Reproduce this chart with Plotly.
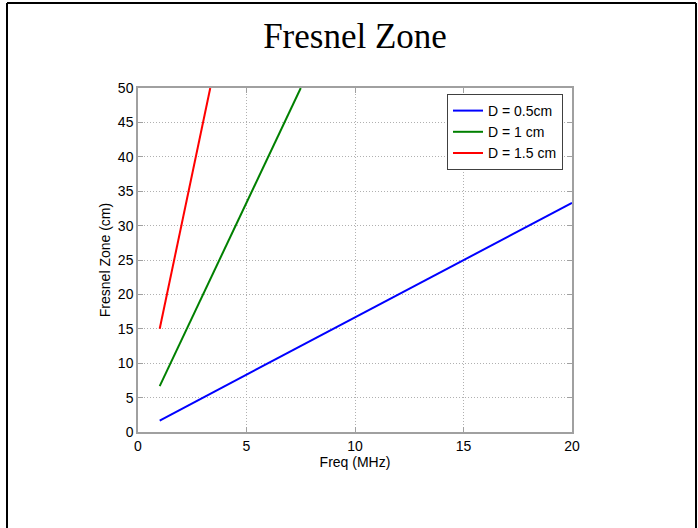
import plotly.graph_objects as go

# Data
freq_blue = [1, 20]
zone_blue = [1.67, 33.3]
freq_green = [1, 7.5]
zone_green = [6.67, 50]
freq_red = [1, 3.33]
zone_red = [15, 50]

x_ticks = [0, 5, 10, 15, 20]
y_ticks = [0, 5, 10, 15, 20, 25, 30, 35, 40, 45, 50]

fig = go.Figure()
fig.add_trace(go.Scatter(x=freq_blue, y=zone_blue, mode="lines", name="D = 0.5cm",
                         line=dict(color="#0000ff", width=2)))
fig.add_trace(go.Scatter(x=freq_green, y=zone_green, mode="lines", name="D = 1 cm",
                         line=dict(color="#008000", width=2)))
fig.add_trace(go.Scatter(x=freq_red, y=zone_red, mode="lines", name="D = 1.5 cm",
                         line=dict(color="#ff0000", width=2)))

axis_common = dict(
    showline=True, linecolor="#a0a0a0", linewidth=1.5, mirror="all",
    ticks="inside", ticklen=5, tickcolor="#a0a0a0", tickwidth=1,
    showgrid=True, gridcolor="#b0b0b0", griddash="1px,2px", gridwidth=1,
    zeroline=False, tickfont=dict(family="Liberation Sans", size=14, color="black"),
)

fig.update_xaxes(range=[0, 20], tickvals=x_ticks, ticktext=[str(v) for v in x_ticks],
                 title=dict(text="Freq (MHz)", font=dict(family="Liberation Sans", size=14, color="black"),
                            standoff=2),
                 **axis_common)
fig.update_yaxes(range=[0, 50], tickvals=y_ticks, ticktext=[str(v) for v in y_ticks],
                 title=dict(text="Fresnel Zone (cm)", font=dict(family="Liberation Sans", size=14, color="black"),
                            standoff=4),
                 **axis_common)

# figure frame (top, left, right edges)
frame = dict(type="line", xref="paper", yref="paper", line=dict(color="black", width=2))
x_left = (7 - 138) / 434
x_right = (696 - 138) / 434
y_top = (432 - 3) / 344
y_bot = (432 - 528) / 344
fig.add_shape(x0=x_left, x1=x_right, y0=y_top, y1=y_top, **frame)
fig.add_shape(x0=x_left, x1=x_left, y0=y_bot, y1=y_top, **frame)
fig.add_shape(x0=x_right, x1=x_right, y0=y_bot, y1=y_top, **frame)

fig.update_layout(
    width=698, height=528,
    margin=dict(l=138, r=126, t=88, b=96),
    paper_bgcolor="white", plot_bgcolor="white",
    title=dict(text="Fresnel Zone", x=0.5, xanchor="center", xref="paper",
               y=1 - 36 / 528, yanchor="middle",
               font=dict(family="Liberation Serif", size=35, color="black")),
    legend=dict(x=(563 - 138) / 434, xanchor="right", y=(432 - 94) / 344, yanchor="top",
                bgcolor="white", bordercolor="#404040", borderwidth=1,
                font=dict(family="Liberation Sans", size=14, color="black"),
                tracegroupgap=0, itemwidth=30),
    showlegend=True,
)

fig.write_html("out.html")
